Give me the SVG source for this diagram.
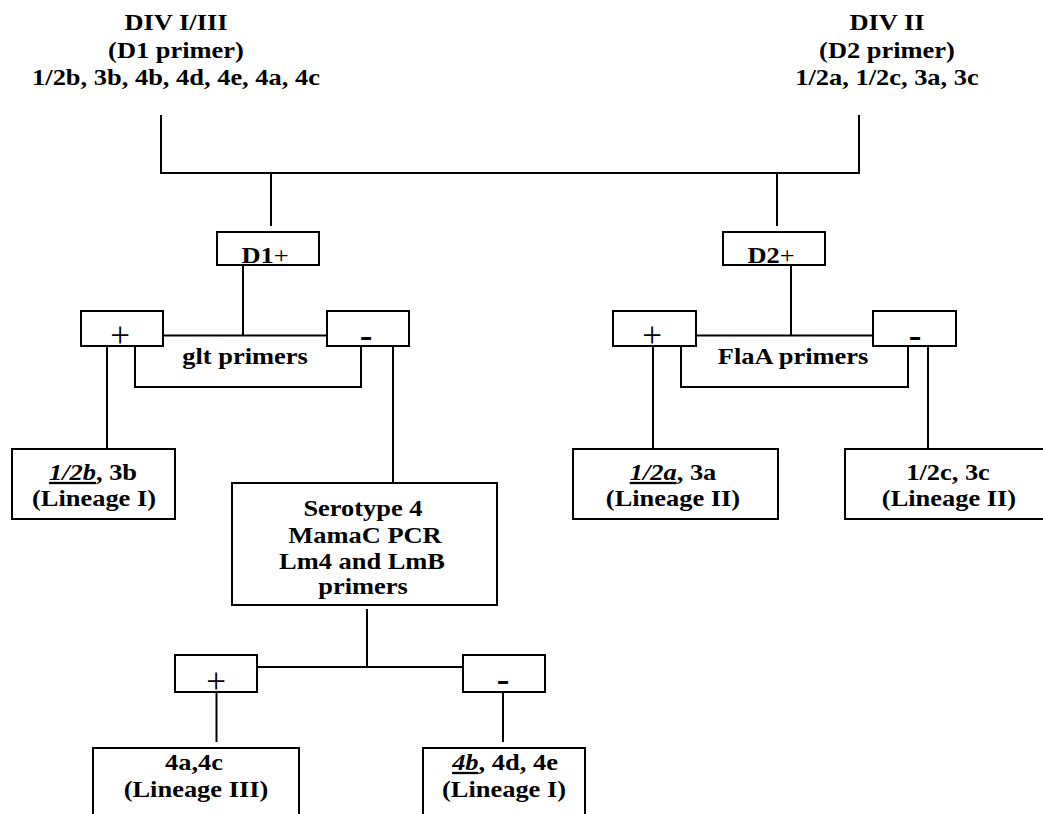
<svg xmlns="http://www.w3.org/2000/svg" width="1043" height="814" viewBox="0 0 1043 814">
<style>
.t{font-family:"Liberation Serif","Times New Roman",serif;font-weight:bold;font-size:23px;fill:#000;text-anchor:middle}
.r{font-weight:normal}
.u{font-style:italic;text-decoration:underline}
.pl{font-family:"Liberation Serif","Times New Roman",serif;font-weight:normal;font-size:35px;fill:#000;text-anchor:middle}
.mi{font-family:"Liberation Serif","Times New Roman",serif;font-weight:bold;font-size:33px;fill:#000;text-anchor:middle}
.b{fill:#fff;stroke:#000;stroke-width:2}
.c line,.c polyline{stroke:#000;stroke-width:2;fill:none}
</style>
<rect width="1043" height="814" fill="#fff"/>
<g class="c" id="connectors">
<polyline points="161,115 161,173 859,173 859,115"/>
<line x1="271" y1="173" x2="271" y2="226"/>
<line x1="777" y1="173" x2="777" y2="226"/>
<line x1="243" y1="265" x2="243" y2="335.5"/>
<line x1="163" y1="335.5" x2="327" y2="335.5"/>
<polyline points="135,346 135,387 361,387 361,346"/>
<line x1="107" y1="346" x2="107" y2="449"/>
<line x1="393" y1="346" x2="393" y2="483"/>
<line x1="791" y1="265" x2="791" y2="335.5"/>
<line x1="696" y1="335.5" x2="873" y2="335.5"/>
<polyline points="681,346 681,387 908,387 908,346"/>
<line x1="653" y1="346" x2="653" y2="449"/>
<line x1="928" y1="346" x2="928" y2="449"/>
<line x1="367" y1="609" x2="367" y2="667"/>
<line x1="257" y1="667" x2="463" y2="667"/>
<line x1="216.5" y1="692" x2="216.5" y2="742"/>
<line x1="503" y1="692" x2="503" y2="742"/>
</g>
<g id="div13">
<text class="t" transform="translate(176,30) scale(1.15,1)">DIV I/III</text>
<text class="t" transform="translate(176,57.5) scale(1.15,1)">(D1 primer)</text>
<text class="t" transform="translate(176,85) scale(1.15,1)">1/2b, 3b, 4b, 4d, 4e, 4a, 4c</text>
</g>
<g id="div2">
<text class="t" transform="translate(887,30) scale(1.15,1)">DIV II</text>
<text class="t" transform="translate(887,57.5) scale(1.15,1)">(D2 primer)</text>
<text class="t" transform="translate(887,85) scale(1.15,1)">1/2a, 1/2c, 3a, 3c</text>
</g>
<g id="d1plus">
<rect class="b" x="217" y="232" width="102" height="33"/>
<text class="t" transform="translate(265,262.5) scale(1.15,1)">D1<tspan class="r">+</tspan></text>
</g>
<g id="d2plus">
<rect class="b" x="723" y="232" width="102" height="33"/>
<text class="t" transform="translate(771,262.5) scale(1.15,1)">D2<tspan class="r">+</tspan></text>
</g>
<g id="glt-plus">
<rect class="b" x="81" y="311" width="82" height="35"/>
<text class="pl" x="120" y="347">+</text>
</g>
<g id="glt-minus">
<rect class="b" x="327" y="311" width="82" height="35"/>
<text class="mi" transform="translate(366,346.5) scale(1.15,1)">-</text>
</g>
<g id="glt-label">
<text class="t" transform="translate(245,364) scale(1.15,1)">glt primers</text>
</g>
<g id="flaa-plus">
<rect class="b" x="613" y="311" width="83" height="35"/>
<text class="pl" x="652" y="347">+</text>
</g>
<g id="flaa-minus">
<rect class="b" x="873" y="311" width="83" height="35"/>
<text class="mi" transform="translate(915,346.5) scale(1.15,1)">-</text>
</g>
<g id="flaa-label">
<text class="t" transform="translate(793,364) scale(1.15,1)">FlaA primers</text>
</g>
<g id="lin1-12b">
<rect class="b" x="12" y="449" width="163" height="70"/>
<text class="t" transform="translate(93,480) scale(1.15,1)"><tspan class="u">1/2b</tspan>, 3b</text>
<text class="t" transform="translate(94,506) scale(1.15,1)">(Lineage I)</text>
</g>
<g id="lin2-12a">
<rect class="b" x="573" y="449" width="205" height="70"/>
<text class="t" transform="translate(673,480) scale(1.15,1)"><tspan class="u">1/2a</tspan>, 3a</text>
<text class="t" transform="translate(673,506) scale(1.15,1)">(Lineage II)</text>
</g>
<g id="lin2-12c">
<rect class="b" x="845" y="449" width="210" height="70"/>
<text class="t" transform="translate(948,480) scale(1.15,1)">1/2c, 3c</text>
<text class="t" transform="translate(949,506) scale(1.15,1)">(Lineage II)</text>
</g>
<g id="serotype4">
<rect class="b" x="232" y="483" width="265" height="122"/>
<text class="t" transform="translate(363,516) scale(1.15,1)">Serotype 4</text>
<text class="t" transform="translate(365,543) scale(1.15,1)">MamaC PCR</text>
<text class="t" transform="translate(362,569) scale(1.15,1)">Lm4 and LmB</text>
<text class="t" transform="translate(363,594) scale(1.15,1)">primers</text>
</g>
<g id="s4-plus">
<rect class="b" x="175" y="655" width="82" height="37"/>
<text class="pl" x="216" y="693">+</text>
</g>
<g id="s4-minus">
<rect class="b" x="463" y="655" width="82" height="37"/>
<text class="mi" transform="translate(503,690.5) scale(1.15,1)">-</text>
</g>
<g id="lin3">
<rect class="b" x="93" y="748" width="206" height="80"/>
<text class="t" transform="translate(194,770) scale(1.15,1)">4a,4c</text>
<text class="t" transform="translate(196,797) scale(1.15,1)">(Lineage III)</text>
</g>
<g id="lin1-4b">
<rect class="b" x="423" y="748" width="162" height="80"/>
<text class="t" transform="translate(505,770) scale(1.15,1)"><tspan class="u">4b</tspan>, 4d, 4e</text>
<text class="t" transform="translate(504,797) scale(1.15,1)">(Lineage I)</text>
</g>
</svg>
